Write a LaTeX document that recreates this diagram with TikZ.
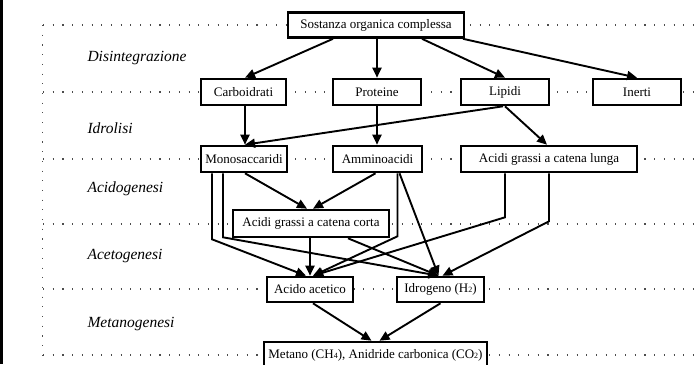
\documentclass[tikz,border=0pt]{standalone}
\usepackage{fontspec}
\setmainfont{Liberation Serif}
\usetikzlibrary{arrows.meta}
\newcommand{\sbs}[1]{{\fontsize{8}{8}\selectfont #1}}
\tikzset{
  box/.style={draw=black, line width=2.6pt, fill=white, inner sep=0pt,
    minimum height=25pt, font=\fontsize{13}{15}\selectfont},
  stage/.style={anchor=west, font=\fontsize{15.5}{18}\selectfont\itshape},
  grid/.style={draw=black!70, line width=1.1pt, dash pattern=on 1.1pt off 8.6pt},
  flow/.style={draw=black, line width=1.9pt, -{Triangle[length=10pt,width=9pt]}},
}
\begin{document}
\begin{tikzpicture}[x=1pt,y=-1pt]
\useasboundingbox (0,0) rectangle (700,364);
% frame line at left
\draw[line width=2.6pt] (1.5,0) -- (1.5,364);
% dotted guide lines
\draw[grid] (42.5,25) -- (42.5,364);
\foreach \yy in {25,92,159,224,289,355}{
  \draw[grid] (43,\yy) -- (700,\yy);
}
% stage labels
\node[stage] (l1) at (84,58) {Disintegrazione};
\node[stage] (l2) at (84,128) {Idrolisi};
\node[stage] (l3) at (84,189) {Acidogenesi};
\node[stage] (l4) at (84,256) {Acetogenesi};
\node[stage] (l5) at (84,324) {Metanogenesi};
% nodes
\node[box, minimum width=176pt] (S) at (376,25) {Sostanza organica complessa};
\node[box, minimum width=85pt, minimum height=26pt] (C) at (243.5,92) {Carboidrati};
\node[box, minimum width=88pt, minimum height=26pt] (P) at (377,92) {Proteine};
\node[box, minimum width=88pt, minimum height=26pt] (L) at (505,92) {Lipidi};
\node[box, minimum width=88pt, minimum height=26pt] (I) at (637,92) {Inerti};
\node[box, minimum width=86pt, minimum height=26pt] (M) at (244,159) {Monosaccaridi};
\node[box, minimum width=89pt, minimum height=26pt] (A) at (377.5,159) {Amminoacidi};
\node[box, minimum width=176pt, minimum height=26pt] (G) at (549,159) {Acidi grassi a catena lunga};
\node[box, minimum width=156pt, minimum height=27pt] (K) at (311,223.5) {Acidi grassi a catena corta};
\node[box, minimum width=86pt] (E) at (310,289.5) {Acido acetico};
\node[box, minimum width=87pt] (H) at (440.5,289.5) {Idrogeno (H\sbs{2})};
\node[box, minimum width=223pt, minimum height=26pt] (T) at (375.5,355) {Metano (CH\sbs{4}), Anidride carbonica (CO\sbs{2})};
% connectors
\draw[flow] ([xshift=-43pt]S.south) -- ([xshift=1.5pt]C.north);
\draw[flow] ([xshift=1pt]S.south) -- (P.north);
\draw[flow] ([xshift=46pt]S.south) -- (L.north);
\draw[flow] ([xshift=87pt]S.south) -- (I.north);
\draw[flow] ([xshift=1.5pt]C.south) -- ([xshift=1pt]M.north);
\draw[flow] ([xshift=-2pt]L.south) -- ([xshift=1pt]M.north);
\draw[flow] (P.south) -- ([xshift=-0.5pt]A.north);
\draw[flow] (L.south) -- ([xshift=-2pt]G.north);
\draw[flow] ([xshift=1pt]M.south) -- ([xshift=-4pt]K.north);
\draw[flow] ([xshift=-2pt]A.south) -- ([xshift=2pt]K.north);
\draw[flow] ([xshift=-32pt]M.south) -- ++(0,66) -- ([xshift=-4pt]E.north);
\draw[flow] ([xshift=-21pt]M.south) -- ++(0,64) -- ([xshift=-2pt]H.north);
\draw[flow] ([xshift=-1pt]K.south) -- (E.north);
\draw[flow] ([xshift=37pt]K.south) -- ([xshift=-2pt]H.north);
\draw[flow] ([xshift=20pt]A.south) -- ++(0,63) -- ([xshift=3pt]E.north);
\draw[flow] ([xshift=22pt]A.south) -- ([xshift=-2pt]H.north);
\draw[flow] ([xshift=-44pt]G.south) -- ++(0,44) -- ([xshift=3pt]E.north);
\draw[flow] (G.south) -- ++(0,48) -- ([xshift=2pt]H.north);
\draw[flow] ([xshift=3pt]E.south) -- ([xshift=-4pt]T.north);
\draw[flow] (H.south) -- ([xshift=4pt]T.north);
\end{tikzpicture}
\end{document}
